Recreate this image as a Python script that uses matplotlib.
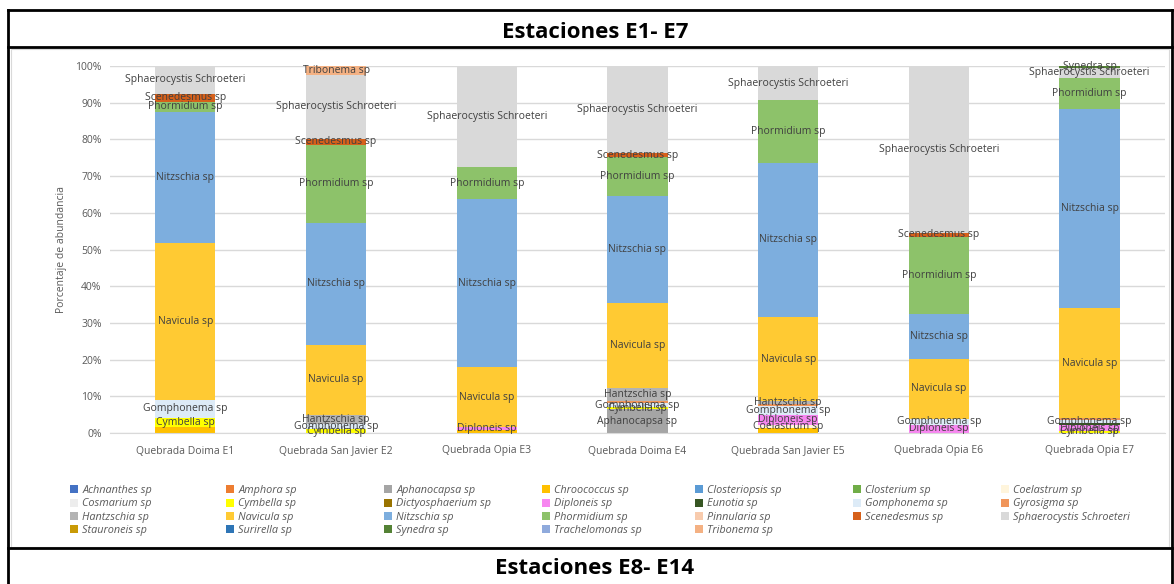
import numpy as np
import matplotlib.pyplot as plt
from matplotlib.lines import Line2D
from matplotlib.patches import Rectangle

stations = ['Quebrada Doima E1', 'Quebrada San Javier E2', 'Quebrada Opia E3',
            'Quebrada Doima E4', 'Quebrada San Javier E5', 'Quebrada Opia E6',
            'Quebrada Opia E7']

# percentage of abundance per species, one value per station (E1..E7)
achnanthes = [0, 0, 0, 0, 0, 0, 0]
amphora = [0, 0, 0, 0, 0, 0, 0]
aphanocapsa = [0, 0, 0, 6.5, 0, 0, 0]
chroococcus = [1.5, 0, 0.8, 0, 1.3, 0, 0]
closteriopsis = [0, 0, 0, 0, 0, 0, 0]
closterium = [0, 0, 0, 0, 0, 0, 0]
coelastrum = [0, 0, 0, 0, 1.0, 0, 0]
cosmarium = [0, 0, 0, 0, 0, 0, 0]
cymbella = [2.7, 1.0, 0, 0.5, 0, 0, 0.6]
dictyosphaerium = [0, 0, 0, 0, 0, 0, 0]
diploneis = [0, 0, 0.8, 0, 2.5, 2.2, 1.5]
eunotia = [0, 0, 0, 0, 0, 0, 0.5]
gomphonema = [4.8, 1.5, 0, 1.2, 2.5, 1.6, 1.0]
gyrosigma = [0, 0, 0, 0.5, 0.5, 0, 0.4]
hantzschia = [0, 2.5, 0, 3.6, 0.8, 0, 0]
navicula = [42.8, 19.0, 16.4, 23.2, 23.1, 16.4, 30.0]
nitzschia = [35.7, 33.3, 45.7, 29.2, 42.0, 12.3, 54.3]
phormidium = [2.7, 21.2, 8.8, 10.5, 17.0, 21.0, 8.4]
pinnularia = [0, 0, 0, 0, 0, 0, 0]
scenedesmus = [2.2, 1.7, 0, 1.0, 0, 1.0, 0]
sphaerocystis = [7.6, 17.3, 27.5, 23.8, 9.3, 45.5, 2.8]
stauroneis = [0, 0, 0, 0, 0, 0, 0]
surirella = [0, 0, 0, 0, 0, 0, 0]
synedra = [0, 0, 0, 0, 0, 0, 0.5]
trachelomonas = [0, 0, 0, 0, 0, 0, 0]
tribonema = [0, 2.5, 0, 0, 0, 0, 0]

# (name, values, colour, show data labels)
series = [
    ('Achnanthes sp', achnanthes, '#4472C4', True),
    ('Amphora sp', amphora, '#ED7D31', True),
    ('Aphanocapsa sp', aphanocapsa, '#A5A5A5', True),
    ('Chroococcus sp', chroococcus, '#FFC000', False),
    ('Closteriopsis sp', closteriopsis, '#5B9BD5', True),
    ('Closterium sp', closterium, '#70AD47', True),
    ('Coelastrum sp', coelastrum, '#FFF5DC', True),
    ('Cosmarium sp', cosmarium, '#EDEDED', True),
    ('Cymbella sp', cymbella, '#FFFF00', True),
    ('Dictyosphaerium sp', dictyosphaerium, '#997300', True),
    ('Diploneis sp', diploneis, '#F786F0', True),
    ('Eunotia sp', eunotia, '#375623', False),
    ('Gomphonema sp', gomphonema, '#DDEBF7', True),
    ('Gyrosigma sp', gyrosigma, '#F0955A', False),
    ('Hantzschia sp', hantzschia, '#B3B3B3', True),
    ('Navicula sp', navicula, '#FFCA33', True),
    ('Nitzschia sp', nitzschia, '#7DAEDE', True),
    ('Phormidium sp', phormidium, '#8DC26A', True),
    ('Pinnularia sp', pinnularia, '#F8CBAD', True),
    ('Scenedesmus sp', scenedesmus, '#D6601A', True),
    ('Sphaerocystis Schroeteri', sphaerocystis, '#D9D9D9', True),
    ('Stauroneis sp', stauroneis, '#C99A06', True),
    ('Surirella sp', surirella, '#2E75B6', True),
    ('Synedra sp', synedra, '#548235', True),
    ('Trachelomonas sp', trachelomonas, '#8FAADC', True),
    ('Tribonema sp', tribonema, '#F4B183', True),
]

plt.rcParams['font.family'] = ['Open Sans', 'DejaVu Sans']

W, H = 1174, 584
fig = plt.figure(figsize=(W / 100, H / 100), dpi=100)
ax = fig.add_axes([110 / W, 1 - 433 / H, 1055 / W, 367 / H])

x = np.arange(len(stations))
bottom = np.zeros(len(stations))
handles = []
for name, vals, col, show in series:
    vals = np.array(vals, dtype=float)
    bars = ax.bar(x, vals, 0.4, bottom=bottom, color=col, label=name, zorder=2)
    if show:
        labels = [name if v > 0 else '' for v in vals]
        ax.bar_label(bars, labels=labels, label_type='center', fontsize=7.5,
                     color='#404040', zorder=3)
    handles.append(bars)
    bottom += vals

ax.set_xlim(-0.5, len(stations) - 0.5)
ax.set_ylim(0, 100)
ax.set_yticks(np.arange(0, 101, 10))
ax.set_yticklabels([f'{v}%' for v in range(0, 101, 10)])
ax.set_xticks(x)
ax.set_xticklabels(stations)
ax.tick_params(axis='both', length=0, labelsize=7.5, colors='#595959')
ax.tick_params(axis='x', pad=9)
ax.tick_params(axis='y', pad=6)
ax.grid(axis='y', color='#D9D9D9', linewidth=1, zorder=0)
for s in ['top', 'right', 'left']:
    ax.spines[s].set_visible(False)
ax.spines['bottom'].set_color('#D9D9D9')
ax.set_ylabel('Porcentaje de abundancia', fontsize=7.5, color='#595959', labelpad=6)

# legend laid out row by row (7 per row), one legend per column
ncol = 7
n = len(series)
col_x = [70, 226, 384, 542, 695, 853, 1001]
for c in range(ncol):
    idx = list(range(c, n, ncol))
    fig.legend([handles[i] for i in idx], [series[i][0] for i in idx],
               loc='upper left', bbox_to_anchor=(col_x[c] / W, 1 - 485 / H),
               frameon=False, handlelength=0.75, handleheight=0.75,
               handletextpad=0.4, labelspacing=0.22, borderaxespad=0, borderpad=0,
               prop={'size': 7.8, 'style': 'italic'}, labelcolor='#595959')

# table-like frame around the chart
lw = 2
fig.add_artist(Line2D([8 / W, 8 / W], [0, 1 - 10 / H], transform=fig.transFigure, color='black', lw=lw))
fig.add_artist(Line2D([1172 / W, 1172 / W], [0, 1 - 10 / H], transform=fig.transFigure, color='black', lw=lw))
for yy in [10, 47, 548]:
    fig.add_artist(Line2D([8 / W, 1172 / W], [1 - yy / H, 1 - yy / H], transform=fig.transFigure,
                          color='black', lw=lw))
fig.add_artist(Rectangle((11 / W, 1 - 547 / H), 1158 / W, 498 / H, transform=fig.transFigure,
                         fill=False, edgecolor='#D9D9D9', lw=0.8))

fig.text(595 / W, 1 - 32 / H, 'Estaciones E1- E7', ha='center', va='center',
         fontsize=16, fontweight='bold', color='black')
fig.text(595 / W, 1 - 568 / H, 'Estaciones E8- E14', ha='center', va='center',
         fontsize=16, fontweight='bold', color='black')

fig.savefig('out.png', dpi=100)
